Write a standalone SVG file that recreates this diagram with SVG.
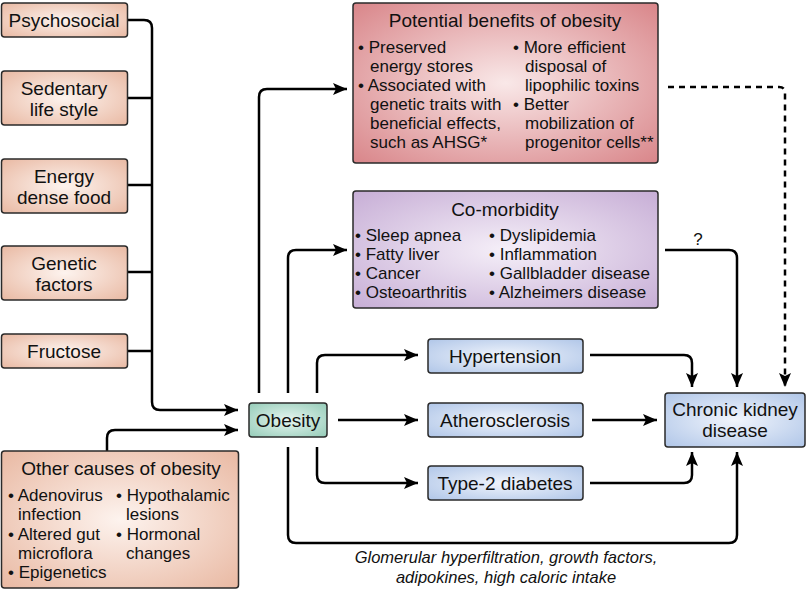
<svg xmlns="http://www.w3.org/2000/svg" width="807" height="590" viewBox="0 0 807 590">
<style>
text{font-family:"Liberation Sans",Arial,sans-serif;fill:#111}
.lbl{font-size:19px;text-anchor:middle}
.ttl{font-size:19px;text-anchor:middle}
.bl{font-size:17px}
.cap{font-size:16.5px;font-style:italic;text-anchor:middle}
.box{stroke:#2a2a2a;stroke-width:1.5}
.c{fill:none;stroke:#000;stroke-width:2.5;stroke-linejoin:round}
</style>
<defs>
<marker id="ah" viewBox="0 0 14 12" refX="14" refY="6" markerUnits="userSpaceOnUse" markerWidth="14" markerHeight="12" orient="auto">
<path d="M0,0 L14,6 L0,12 L3,6 z" fill="#000"/>
</marker>
<radialGradient id="gPeach" cx="50%" cy="50%" r="70%">
<stop offset="0" stop-color="#fdf3ee"/><stop offset="1" stop-color="#e9b9a3"/>
</radialGradient>
<radialGradient id="gRed" cx="50%" cy="50%" r="70%">
<stop offset="0" stop-color="#f9e8e8"/><stop offset="1" stop-color="#d9868a"/>
</radialGradient>
<radialGradient id="gPurple" cx="50%" cy="50%" r="70%">
<stop offset="0" stop-color="#f5eff8"/><stop offset="1" stop-color="#c7aed6"/>
</radialGradient>
<radialGradient id="gTeal" cx="50%" cy="50%" r="70%">
<stop offset="0" stop-color="#e6f5f0"/><stop offset="1" stop-color="#95ccb8"/>
</radialGradient>
<radialGradient id="gBlue" cx="50%" cy="50%" r="70%">
<stop offset="0" stop-color="#f1f5fc"/><stop offset="1" stop-color="#b0c6e8"/>
</radialGradient>
</defs>
<rect width="807" height="590" fill="#fff"/>

<g id="connectors">
<path class="c" d="M128,20 H144 Q152,20 152,28 V402 Q152,410 160,410 H238" marker-end="url(#ah)"/>
<path class="c" d="M128,98 H152"/>
<path class="c" d="M128,185 H152"/>
<path class="c" d="M128,272 H152"/>
<path class="c" d="M128,351 H152"/>
<path class="c" d="M107,451 V438 Q107,430 115,430 H238" marker-end="url(#ah)"/>
<path class="c" d="M259,393 V97 Q259,89 267,89 H347" marker-end="url(#ah)"/>
<path class="c" d="M288,393 V258 Q288,250 296,250 H347" marker-end="url(#ah)"/>
<path class="c" d="M317,393 V363 Q317,355 325,355 H418" marker-end="url(#ah)"/>
<path class="c" d="M338,420 H418" marker-end="url(#ah)"/>
<path class="c" d="M317,447 V475 Q317,483 325,483 H418" marker-end="url(#ah)"/>
<path class="c" d="M288,447 V535 Q288,543 296,543 H729 Q737,543 737,535 V452" marker-end="url(#ah)"/>
<path class="c" d="M590,355 H684 Q692,355 692,363 V387" marker-end="url(#ah)"/>
<path class="c" d="M592,420 H657" marker-end="url(#ah)"/>
<path class="c" d="M590,483 H684 Q692,483 692,475 V452" marker-end="url(#ah)"/>
<path class="c" d="M665,250 H729 Q737,250 737,258 V387" marker-end="url(#ah)"/>
<path class="c" d="M668,87 H779 Q785,87 785,93 V387" stroke-dasharray="6,5" marker-end="url(#ah)"/>
<text x="698" y="245" style="font-size:17px" text-anchor="middle">?</text>
<text class="cap" x="506" y="563">Glomerular hyperfiltration, growth factors,</text>
<text class="cap" x="506" y="583">adipokines, high caloric intake</text>
</g>

<g id="psychosocial">
<rect class="box" x="1.5" y="3" width="126" height="34" rx="3" fill="url(#gPeach)"/>
<text class="lbl" x="64" y="27">Psychosocial</text>
</g>
<g id="sedentary">
<rect class="box" x="1.5" y="71" width="126" height="54" rx="3" fill="url(#gPeach)"/>
<text class="lbl" x="64" y="95">Sedentary</text>
<text class="lbl" x="64" y="116">life style</text>
</g>
<g id="energy">
<rect class="box" x="1.5" y="159" width="126" height="54" rx="3" fill="url(#gPeach)"/>
<text class="lbl" x="64" y="183">Energy</text>
<text class="lbl" x="64" y="204">dense food</text>
</g>
<g id="genetic">
<rect class="box" x="1.5" y="246" width="126" height="54" rx="3" fill="url(#gPeach)"/>
<text class="lbl" x="64" y="270">Genetic</text>
<text class="lbl" x="64" y="291">factors</text>
</g>
<g id="fructose">
<rect class="box" x="1.5" y="334" width="126" height="34" rx="3" fill="url(#gPeach)"/>
<text class="lbl" x="64" y="358">Fructose</text>
</g>

<g id="other-causes">
<rect class="box" x="1.5" y="451" width="237" height="137" rx="3" fill="url(#gPeach)"/>
<text class="ttl" x="121" y="475">Other causes of obesity</text>
<text class="bl" x="8" y="501">• Adenovirus</text>
<text class="bl" x="18" y="520">infection</text>
<text class="bl" x="8" y="540">• Altered gut</text>
<text class="bl" x="18" y="559">microflora</text>
<text class="bl" x="8" y="578">• Epigenetics</text>
<text class="bl" x="116" y="501">• Hypothalamic</text>
<text class="bl" x="126" y="520">lesions</text>
<text class="bl" x="116" y="540">• Hormonal</text>
<text class="bl" x="126" y="559">changes</text>
</g>

<g id="obesity">
<rect class="box" x="249" y="403" width="78" height="34" rx="3" fill="url(#gTeal)"/>
<text class="lbl" x="288" y="427">Obesity</text>
</g>

<g id="benefits">
<rect class="box" x="353" y="3" width="305" height="160" rx="3" fill="url(#gRed)"/>
<text class="ttl" x="505" y="27">Potential benefits of obesity</text>
<text class="bl" x="358" y="53">• Preserved</text>
<text class="bl" x="370" y="72">energy stores</text>
<text class="bl" x="358" y="91">• Associated with</text>
<text class="bl" x="370" y="110">genetic traits with</text>
<text class="bl" x="370" y="129">beneficial effects,</text>
<text class="bl" x="370" y="148">such as AHSG*</text>
<text class="bl" x="513" y="53">• More efficient</text>
<text class="bl" x="525" y="72">disposal of</text>
<text class="bl" x="525" y="91">lipophilic toxins</text>
<text class="bl" x="513" y="110">• Better</text>
<text class="bl" x="525" y="129">mobilization of</text>
<text class="bl" x="525" y="148">progenitor cells**</text>
</g>

<g id="comorbidity">
<rect class="box" x="353" y="191" width="305" height="117" rx="3" fill="url(#gPurple)"/>
<text class="ttl" x="505" y="216">Co-morbidity</text>
<text class="bl" x="355" y="241">• Sleep apnea</text>
<text class="bl" x="355" y="260">• Fatty liver</text>
<text class="bl" x="355" y="279">• Cancer</text>
<text class="bl" x="355" y="298">• Osteoarthritis</text>
<text class="bl" x="489" y="241">• Dyslipidemia</text>
<text class="bl" x="489" y="260">• Inflammation</text>
<text class="bl" x="489" y="279">• Gallbladder disease</text>
<text class="bl" x="489" y="298">• Alzheimers disease</text>
</g>

<g id="hypertension">
<rect class="box" x="428" y="339" width="155" height="34" rx="3" fill="url(#gBlue)"/>
<text class="lbl" x="505" y="363">Hypertension</text>
</g>
<g id="atherosclerosis">
<rect class="box" x="428" y="403" width="155" height="34" rx="3" fill="url(#gBlue)"/>
<text class="lbl" x="505" y="427">Atherosclerosis</text>
</g>
<g id="diabetes">
<rect class="box" x="428" y="466" width="155" height="34" rx="3" fill="url(#gBlue)"/>
<text class="lbl" x="505" y="490">Type-2 diabetes</text>
</g>
<g id="ckd">
<rect class="box" x="665" y="393" width="140" height="54" rx="3" fill="url(#gBlue)"/>
<text class="lbl" x="735" y="416">Chronic kidney</text>
<text class="lbl" x="735" y="437">disease</text>
</g>
</svg>
